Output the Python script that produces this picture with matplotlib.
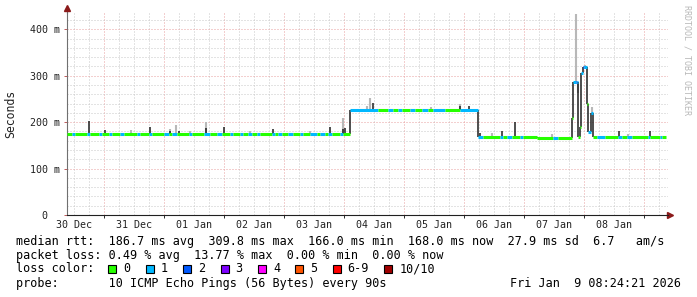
import numpy as np
import matplotlib.pyplot as plt
from matplotlib.patches import Rectangle
from matplotlib.ticker import FixedLocator

W, H = 697, 297
MONO = "DejaVu Sans Mono"

# time axis in hours after 31 Dec 00:00
t_first, t_last = -14.8, 225.6
day_names = ["30 Dec", "31 Dec", "01 Jan", "02 Jan", "03 Jan",
             "04 Jan", "05 Jan", "06 Jan", "07 Jan", "08 Jan"]

# median rtt (ms) as steps: median_ms[i] holds from step_t[i] to step_t[i+1]
step_t = [-14.8, 98.4, 149.6, 173.2, 187.2, 187.6, 189.6, 190.4, 190.8,
          191.6, 193.2, 193.6, 194.8, 195.6, 224.8]
median_ms = [174, 227, 169, 166, 208, 286, 168, 190, 305,
             318, 240, 178, 220, 167.5]

# spans with lost packets (start h, end h, lost of 10); the rest is 0
loss_spans = [
    (-12.8, -11.6, 1), (-6.8, -5.6, 1), (-2.0, -0.8, 1), (2.0, 3.2, 1),
    (6.4, 8.0, 1), (13.2, 14.4, 1), (18.0, 19.2, 1), (24.0, 26.0, 1),
    (27.2, 29.2, 1), (34.0, 35.2, 1), (40.0, 42.4, 1), (45.2, 47.2, 1),
    (50.4, 51.6, 1), (54.4, 55.6, 1), (57.6, 59.2, 1), (61.2, 62.4, 1),
    (67.2, 68.4, 1), (69.6, 71.2, 1), (73.6, 75.6, 1), (78.4, 79.6, 1),
    (82.4, 85.2, 1), (86.4, 88.4, 1), (89.6, 91.2, 1), (94.4, 95.6, 1),
    (98.4, 109.6, 1), (113.6, 115.6, 1), (117.6, 119.2, 1), (122.4, 124.4, 1),
    (127.2, 129.6, 1), (131.6, 136.4, 1), (142.4, 149.6, 1), (149.6, 151.6, 1),
    (158.4, 159.6, 1), (161.2, 163.2, 1), (166.4, 167.6, 1), (179.6, 181.6, 1),
    (187.6, 188.8, 1), (188.8, 189.2, 2), (189.2, 189.6, 1), (190.8, 191.5, 1),
    (191.5, 191.9, 2), (191.9, 193.2, 1), (193.6, 195.6, 1), (197.2, 200.4, 1),
    (205.6, 207.2, 1), (209.2, 211.2, 1), (217.6, 218.4, 1), (222.4, 223.2, 1),
]

# smoke: top of the ping spread at single samples (h, ms)
dark_smoke = [(-5.9, 202), (0.5, 183), (18.5, 189), (26.3, 180), (29.9, 181),
              (40.8, 188), (48.0, 190), (67.7, 186), (90.4, 189), (95.5, 186),
              (96.4, 188), (107.6, 242), (142.4, 235), (146.0, 234),
              (150.4, 176), (159.0, 181), (164.4, 201), (206.0, 181),
              (218.4, 181)]
light_smoke = [(10.8, 183), (26.3, 186), (28.9, 194), (34.5, 180), (40.8, 201),
               (58.4, 180), (82.4, 180), (95.5, 208), (105.0, 234),
               (106.4, 251), (130.8, 233), (142.4, 240), (155.0, 176),
               (179.0, 174), (188.8, 432), (189.4, 262), (192.2, 322),
               (195.2, 232), (209.6, 174)]

loss_labels = ["0", "1", "2", "3", "4", "5", "6-9", "10/10"]
loss_colors = ["#26ff00", "#00b8ff", "#0059ff", "#7e00ff",
               "#ff00ff", "#ff5500", "#ff0000", "#a00000"]

stats_lines = [
    "median rtt:  186.7 ms avg  309.8 ms max  166.0 ms min  168.0 ms now  27.9 ms sd  6.7   am/s",
    "packet loss: 0.49 % avg  13.77 % max  0.00 % min  0.00 % now",
]
color_caption = "loss color:"
probe_text = "probe:       10 ICMP Echo Pings (56 Bytes) every 90s"
stamp_text = "Fri Jan  9 08:24:21 2026"


def level_at(t):
    i = np.searchsorted(step_t, t, side="right") - 1
    return median_ms[min(max(i, 0), len(median_ms) - 1)]


def loss_at(t):
    for a, b, n in loss_spans:
        if a <= t < b:
            return n
    return 0


def loss_index(n):
    return n if n <= 5 else (6 if n < 10 else 7)


fig = plt.figure(figsize=(W / 100, H / 100), dpi=100)
ax = fig.add_axes([67 / W, 1 - 215 / H, 601 / W, 202 / H])
ax.set_xlim(t_first, t_last)
ax.set_ylim(0, 435)

# grid
midnights = np.arange(0, 225, 24)
six_hours = [h for h in np.arange(-12, 225, 6) if h % 24 != 0]
ax.xaxis.set_major_locator(FixedLocator(midnights))
ax.xaxis.set_minor_locator(FixedLocator(six_hours))
ax.yaxis.set_major_locator(FixedLocator(np.arange(0, 401, 100)))
ax.yaxis.set_minor_locator(FixedLocator([v for v in range(20, 435, 20) if v % 100]))
ax.set_yticklabels(["0  "] + [f"{v} m" for v in range(100, 401, 100)])
ax.grid(which="minor", color="#c8c8c8", lw=0.72, ls=(0, (1, 2)))
ax.grid(which="major", color="#e8a0a0", lw=0.72, ls=(0, (1, 2)))
ax.set_axisbelow(True)

ax.tick_params(axis="x", which="major", labelbottom=False, length=2.2,
               width=0.72, color="#303030", direction="out")
ax.tick_params(axis="y", which="major", length=2.2, width=0.72,
               color="#c06060", direction="out", pad=3.2,
               labelsize=7.2, labelfontfamily=MONO, labelcolor="#222222")
ax.tick_params(which="minor", length=0)

sec = ax.secondary_xaxis("bottom")
sec.set_xticks(np.arange(-12, 205, 24), labels=day_names)
sec.tick_params(length=0, pad=3.4, labelsize=7.2, labelfontfamily=MONO,
                labelcolor="#222222")
sec.spines["bottom"].set_visible(False)

for s in ["top", "right"]:
    ax.spines[s].set_visible(False)
ax.spines["left"].set_color("#707070")
ax.spines["bottom"].set_color("#202020")
ax.spines["left"].set_linewidth(0.8)
ax.spines["bottom"].set_linewidth(0.8)
ax.plot([0, 0], [1, 1.025], transform=ax.transAxes, color="#707070",
        lw=0.8, clip_on=False)
ax.plot([0], [1.025], marker="^", ms=4.2, color="#8b1a1a",
        transform=ax.transAxes, clip_on=False)
ax.plot([1.004], [0], marker=">", ms=4.2, color="#8b1a1a",
        transform=ax.transAxes, clip_on=False)

# smoke
for t, top in light_smoke:
    ax.vlines(t, level_at(t), top, color="#b8b8b8", lw=1.5, zorder=2)
for t, top in dark_smoke:
    ax.vlines(t, level_at(t), top, color="#1e1e1e", lw=1.1, zorder=3)

# step connectors
for i in range(1, len(median_ms)):
    lo, hi = sorted((median_ms[i - 1], median_ms[i]))
    ax.vlines(step_t[i], lo, hi, color="#1e1e1e", lw=1.1, zorder=3)

# median line coloured by loss
edges = set(step_t)
for a, b, n in loss_spans:
    edges.update([a, b])
edges = sorted(e for e in edges if step_t[0] <= e <= step_t[-1])
for a, b in zip(edges[:-1], edges[1:]):
    mid = (a + b) / 2
    ax.hlines(level_at(mid), a, b, color=loss_colors[loss_index(loss_at(mid))],
              lw=2.2, zorder=4)

# labels
fig.text(11 / W, 1 - 113.5 / H, "Seconds", rotation=90, ha="center",
         va="center", family=MONO, fontsize=8.3, color="#222222")
fig.text(687.5 / W, 1 - 60 / H, "RRDTOOL / TOBI OETIKER", rotation=270,
         ha="center", va="center", family=MONO, fontsize=6, color="#b8b8b8")

# legend rows
row_y = [241, 255, 269, 283.5]
for text, y in zip(stats_lines, row_y):
    fig.text(16 / W, 1 - y / H, text, ha="left", va="center", family=MONO,
             fontsize=8.5, color="black")
fig.text(16 / W, 1 - row_y[2] / H, color_caption, ha="left", va="center",
         family=MONO, fontsize=8.5, color="black")
x = 108.3
for lab, col in zip(loss_labels, loss_colors):
    fig.add_artist(Rectangle((x / W, 1 - 273 / H), 8 / W, 8 / H,
                             transform=fig.transFigure, facecolor=col,
                             edgecolor="black", lw=0.8))
    fig.text((x + 15) / W, 1 - row_y[2] / H, lab, ha="left", va="center",
             family=MONO, fontsize=8.5, color="black")
    x += 15 + 7.1 * len(lab) + 15.3
fig.text(16 / W, 1 - row_y[3] / H, probe_text, ha="left", va="center",
         family=MONO, fontsize=8.5, color="black")
fig.text(681 / W, 1 - row_y[3] / H, stamp_text, ha="right", va="center",
         family=MONO, fontsize=8.5, color="black")

fig.savefig("out.png", dpi=100, facecolor="white")
